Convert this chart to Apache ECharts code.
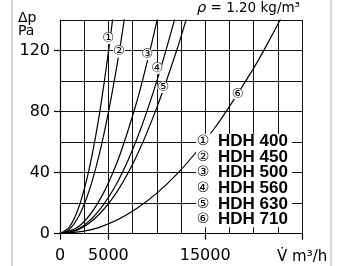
<!DOCTYPE html>
<html>
<head>
<meta charset="utf-8">
<style>
  html, body { margin: 0; padding: 0; background: #fff; }
  #chart { width: 338px; height: 266px; }
</style>
<script src="https://cdn.jsdelivr.net/npm/echarts@6/dist/echarts.min.js"></script>
</head>
<body>
<div id="chart"></div>
<script>
(function () {
  'use strict'

  // Pressure drop curves (flow m³/h -> Δp Pa)
  const MODELS = ['HDH 400', 'HDH 450', 'HDH 500', 'HDH 560', 'HDH 630', 'HDH 710']
  const MARKS = ['①', '②', '③', '④', '⑤', '⑥']

  const flow400 = [0, 1000, 2000, 3000, 4000, 5000, 5600]
  const dp400 = [0, 4.6, 18.5, 42, 75.5, 119, 149]
  const flow450 = [0, 1000, 2000, 3000, 4000, 5000, 6000, 6800]
  const dp450 = [0, 3, 12.2, 28, 50.5, 79.5, 114.5, 147]
  const flow500 = [0, 2000, 4000, 6000, 8000, 9200, 10200]
  const dp500 = [0, 5, 21, 48.5, 88, 117.6, 144.6]
  const flow560 = [0, 2000, 4000, 6000, 8000, 10000, 12000]
  const dp560 = [0, 3.6, 15, 34.5, 63, 100, 144]
  const flow630 = [0, 2000, 4000, 6000, 8000, 10000, 12000, 13200]
  const dp630 = [0, 3, 12.4, 28.5, 52, 82.6, 119, 143.9]
  const flow710 = [0, 4000, 8000, 12000, 16000, 20000, 22000, 23000]
  const dp710 = [0, 4, 16.8, 38.5, 69.4, 108.4, 131.2, 143.4]

  // where the circled numbers sit on each curve
  const markFlow = [4990, 6095, 9020, 10050, 10670, 18360]
  const markDp = [128, 119.2, 117.5, 108.4, 96.1, 91.5]

  const xTicks = [0, 5000, 15000, 25000]
  const xLabels = [0, 5000, 15000]
  const yTicks = [0, 40, 80, 120]

  const FONT = '"DejaVu Sans", "Noto Sans CJK SC", sans-serif'
  const BOLD_FONT = '"Liberation Sans", Arial, sans-serif'

  const CURVES = [
    [flow400, dp400],
    [flow450, dp450],
    [flow500, dp500],
    [flow560, dp560],
    [flow630, dp630],
    [flow710, dp710]
  ]

  function zip (xs, ys) {
    return xs.map((x, i) => [x, ys[i]])
  }

  function onlyLabels (list) {
    return value => (list.indexOf(value) >= 0 ? String(value) : '')
  }

  function buildSeries () {
    return CURVES.map((curve, i) => ({
      name: MODELS[i],
      type: 'line',
      smooth: 0.35,
      showSymbol: false,
      silent: true,
      lineStyle: { color: '#000', width: 1.2 },
      data: zip(curve[0], curve[1]),
      markPoint: {
        silent: true,
        symbol: 'circle',
        symbolSize: 12,
        itemStyle: { color: '#fff' },
        label: {
          show: true,
          formatter: MARKS[i],
          color: '#000',
          fontFamily: FONT,
          fontSize: 13.5
        },
        data: [{ coord: [markFlow[i], markDp[i]] }]
      }
    }))
  }

  function legendText () {
    return MODELS.map((name, i) => `{c|${MARKS[i]}}{s| }{b|${name}}`).join('\n')
  }

  // grid axis draws the lines and labels, the tick axis only the few outer ticks
  function gridAxis (max, interval, labels, margin) {
    return {
      type: 'value',
      min: 0,
      max,
      interval,
      axisLine: { show: true, lineStyle: { color: '#000', width: 1.2 } },
      axisTick: { show: false },
      axisLabel: { formatter: onlyLabels(labels), color: '#000', fontFamily: FONT, fontSize: 16, margin },
      splitLine: { show: true, lineStyle: { color: '#111', width: 1 } }
    }
  }

  function tickAxis (max, ticks) {
    return {
      type: 'value',
      min: 0,
      max,
      axisLine: { show: false },
      axisTick: { show: true, customValues: ticks, length: 6, lineStyle: { color: '#000', width: 1.2 } },
      axisLabel: { show: false },
      splitLine: { show: false }
    }
  }

  const chart = echarts.init(document.getElementById('chart'), null, { renderer: 'canvas' })

  chart.setOption({
    animation: false,
    backgroundColor: '#fff',
    grid: { left: 60, right: 36, top: 20, bottom: 32.3, containLabel: false },
    xAxis: [
      gridAxis(25000, 2500, xLabels, 14),
      Object.assign(tickAxis(25000, xTicks), { position: 'bottom' })
    ],
    yAxis: [
      gridAxis(140, 20, yTicks, 10),
      Object.assign(tickAxis(140, yTicks), { position: 'left' })
    ],
    series: buildSeries(),
    graphic: [
      { type: 'line', silent: true, shape: { x1: 12, y1: 0, x2: 12, y2: 266 }, style: { stroke: '#c8c8c8', lineWidth: 1.5 } },
      { type: 'line', silent: true, shape: { x1: 331, y1: 0, x2: 331, y2: 266 }, style: { stroke: '#c8c8c8', lineWidth: 1.5 } },
      {
        type: 'text',
        left: 18,
        top: 11,
        style: { text: 'Δp\nPa', fill: '#000', font: '14px ' + FONT, lineHeight: 13 }
      },
      {
        type: 'text',
        right: 38,
        top: 1,
        style: {
          text: '{i|ρ} = 1.20 kg/m³',
          fill: '#000',
          font: '13.5px ' + FONT,
          rich: { i: { fontStyle: 'italic', fontSize: 14.5, fontFamily: FONT } }
        }
      },
      {
        type: 'text',
        left: 277,
        top: 250,
        style: { text: 'V̇ m³/h', fill: '#000', font: '15px ' + FONT }
      },
      {
        type: 'text',
        left: 196,
        top: 133,
        z: 100,
        style: {
          text: legendText(),
          backgroundColor: '#fff',
          padding: [0, 4, 0, 0],
          fill: '#000',
          rich: {
            c: { width: 14, align: 'center', fontFamily: FONT, fontSize: 14, lineHeight: 15.6 },
            s: { width: 8, fontSize: 12, lineHeight: 15.6 },
            b: { fontFamily: BOLD_FONT, fontWeight: 'bold', fontSize: 17, lineHeight: 15.6 }
          }
        }
      }
    ]
  })
})()
</script>
</body>
</html>
